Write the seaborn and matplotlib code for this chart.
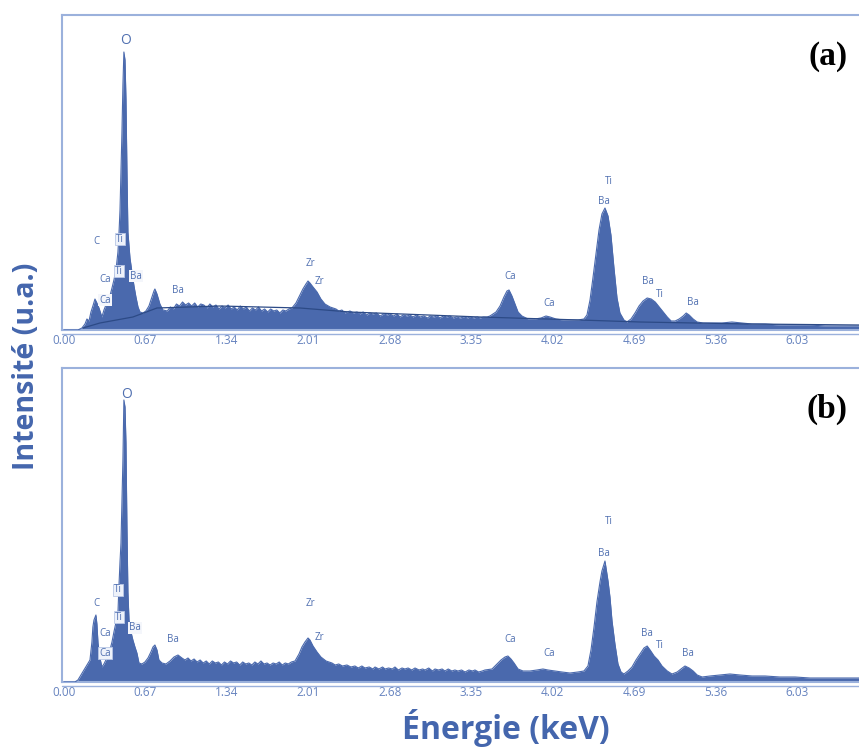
import numpy as np
import pandas as pd
import seaborn as sns
import matplotlib
matplotlib.use("Agg")
import matplotlib.pyplot as plt
from matplotlib.lines import Line2D

# ---------------- data ----------------
# EDS spectrum (a): (energy keV, counts a.u.)
spectrum_a = [
    (0.000, 0), (0.115, 0), (0.148, 2), (0.173, 6), (0.189, 11), (0.206, 9), (0.222, 18), (0.238, 24),
    (0.255, 31), (0.271, 27), (0.288, 22), (0.304, 16), (0.312, 13), (0.329, 20), (0.345, 25), (0.362, 29),
    (0.378, 34), (0.395, 42), (0.411, 50), (0.428, 60), (0.444, 78), (0.452, 95), (0.461, 120), (0.469, 160),
    (0.477, 198), (0.485, 245), (0.493, 278), (0.502, 270), (0.510, 231), (0.518, 160), (0.526, 98),
    (0.543, 72), (0.559, 58), (0.576, 44), (0.592, 33), (0.609, 23), (0.625, 18), (0.650, 17), (0.674, 19),
    (0.699, 24), (0.724, 33), (0.740, 39), (0.748, 41), (0.765, 36), (0.789, 26), (0.814, 20),
    (0.850, 19), (0.875, 23), (0.900, 21), (0.925, 26), (0.950, 24), (0.975, 28), (1.000, 25), (1.025, 27),
    (1.050, 24), (1.075, 27), (1.100, 23), (1.125, 26), (1.150, 25), (1.175, 22), (1.200, 26), (1.225, 23),
    (1.250, 25), (1.275, 21), (1.300, 24), (1.325, 22), (1.350, 25), (1.375, 21), (1.400, 23), (1.425, 20),
    (1.450, 24), (1.475, 21), (1.500, 23), (1.525, 19), (1.550, 22), (1.575, 20), (1.600, 23), (1.625, 19),
    (1.650, 21), (1.675, 18), (1.700, 21), (1.725, 19), (1.750, 20), (1.775, 17), (1.800, 20), (1.825, 19),
    (1.850, 21), (1.875, 22), (1.908, 27), (1.941, 35), (1.965, 41), (1.990, 46), (2.007, 49), (2.023, 47),
    (2.048, 43), (2.081, 38), (2.113, 31), (2.146, 26), (2.188, 23),
    (2.237, 21), (2.260, 19), (2.286, 20), (2.310, 17), (2.352, 19), (2.380, 17), (2.410, 18), (2.434, 16),
    (2.460, 18), (2.490, 15), (2.516, 17), (2.540, 16), (2.570, 17), (2.599, 14), (2.630, 16), (2.660, 15),
    (2.681, 16), (2.710, 14), (2.740, 16), (2.763, 13), (2.790, 15), (2.820, 14), (2.845, 15), (2.870, 13),
    (2.900, 15), (2.928, 13), (2.960, 14), (2.990, 12), (3.010, 14), (3.040, 13), (3.070, 14), (3.092, 12),
    (3.120, 14), (3.150, 13), (3.174, 14), (3.200, 12), (3.230, 13), (3.257, 12), (3.290, 13), (3.320, 12),
    (3.339, 13), (3.370, 12), (3.400, 13), (3.421, 12), (3.450, 13), (3.480, 13), (3.503, 14),
    (3.553, 18), (3.586, 24), (3.618, 33), (3.643, 39), (3.660, 40), (3.684, 34), (3.709, 26), (3.734, 18),
    (3.766, 14), (3.816, 11), (3.873, 11), (3.923, 12), (3.964, 14), (3.997, 13), (4.046, 11), (4.104, 10),
    (4.161, 10), (4.227, 10), (4.276, 11), (4.301, 15), (4.326, 30), (4.350, 52), (4.375, 76), (4.400, 100),
    (4.424, 116), (4.449, 122), (4.474, 114), (4.498, 95), (4.523, 62), (4.548, 32), (4.572, 17),
    (4.605, 10), (4.630, 8), (4.663, 11), (4.696, 17), (4.729, 24), (4.762, 29), (4.796, 32), (4.829, 31),
    (4.862, 28), (4.895, 23), (4.928, 18), (4.961, 13), (4.993, 9), (5.026, 9), (5.059, 11), (5.092, 14),
    (5.117, 17), (5.141, 15), (5.174, 11), (5.207, 8), (5.255, 7), (5.329, 7), (5.411, 7), (5.493, 8),
    (5.576, 7), (5.658, 6), (5.765, 6), (5.888, 5), (6.012, 5), (6.135, 5), (6.258, 4), (6.382, 4),
    (6.538, 4), (6.628, 4),
]

background_energy_a = [0.156, 0.296, 0.567, 0.765, 1.283, 1.941, 2.352, 3.421, 4.243, 4.737, 5.641, 6.538]
background_counts_a = [2, 7, 13, 22, 24, 22, 18, 13, 10, 8, 6, 5]

# EDS spectrum (b)
spectrum_b = [
    (0.000, 0), (0.090, 0), (0.115, 2), (0.140, 7), (0.164, 12), (0.189, 17), (0.214, 22), (0.230, 40),
    (0.238, 55), (0.247, 62), (0.263, 67), (0.271, 58), (0.280, 39), (0.296, 24), (0.312, 15), (0.329, 18),
    (0.345, 22), (0.362, 27), (0.378, 32), (0.395, 40), (0.411, 50), (0.428, 60), (0.444, 69), (0.452, 95),
    (0.461, 120), (0.469, 139), (0.477, 180), (0.485, 222), (0.493, 282), (0.502, 275), (0.510, 239),
    (0.518, 155), (0.526, 90), (0.535, 62), (0.551, 50), (0.567, 42), (0.584, 35), (0.600, 29), (0.617, 19),
    (0.641, 18), (0.666, 20), (0.691, 24), (0.715, 30), (0.732, 35), (0.748, 37), (0.765, 32), (0.781, 22),
    (0.806, 19), (0.839, 18), (0.872, 21), (0.905, 25), (0.938, 27),
    (0.970, 24), (0.995, 22), (1.020, 24), (1.045, 21), (1.070, 23), (1.095, 20), (1.120, 22), (1.145, 19),
    (1.170, 21), (1.195, 18), (1.220, 21), (1.245, 19), (1.270, 20), (1.295, 17), (1.320, 20), (1.345, 18),
    (1.370, 21), (1.395, 19), (1.420, 20), (1.445, 17), (1.470, 20), (1.495, 18), (1.520, 19), (1.545, 17),
    (1.570, 20), (1.595, 18), (1.620, 21), (1.645, 18), (1.670, 19), (1.695, 17), (1.720, 19), (1.745, 18),
    (1.770, 20), (1.795, 17), (1.820, 19), (1.845, 18), (1.870, 20), (1.900, 21), (1.933, 28), (1.957, 35),
    (1.982, 40), (2.007, 44), (2.023, 42), (2.048, 36), (2.081, 30), (2.113, 25), (2.155, 21),
    (2.204, 19), (2.230, 17), (2.260, 18), (2.290, 16), (2.327, 17), (2.360, 15), (2.393, 16), (2.420, 14),
    (2.450, 16), (2.475, 14), (2.510, 15), (2.540, 13), (2.558, 15), (2.590, 13), (2.620, 15), (2.640, 13),
    (2.670, 14), (2.700, 13), (2.722, 15), (2.750, 12), (2.780, 14), (2.804, 13), (2.830, 14), (2.860, 12),
    (2.887, 14), (2.920, 12), (2.950, 13), (2.969, 12), (3.000, 14), (3.030, 11), (3.051, 13), (3.080, 12),
    (3.110, 13), (3.133, 11), (3.160, 13), (3.190, 11), (3.215, 12), (3.240, 11), (3.270, 12), (3.298, 10),
    (3.330, 12), (3.360, 11), (3.380, 12), (3.410, 10), (3.440, 11), (3.462, 12),
    (3.520, 13), (3.561, 18), (3.594, 22), (3.627, 25), (3.651, 26), (3.676, 23), (3.701, 19), (3.734, 13),
    (3.775, 11), (3.832, 11), (3.890, 12), (3.939, 13), (3.980, 12), (4.038, 11), (4.095, 10), (4.161, 9),
    (4.227, 10), (4.276, 11), (4.309, 16), (4.334, 32), (4.359, 55), (4.383, 80), (4.408, 100), (4.424, 111),
    (4.449, 121), (4.474, 101), (4.490, 85), (4.507, 61), (4.531, 38), (4.556, 18), (4.581, 10), (4.605, 8),
    (4.638, 11), (4.671, 15), (4.704, 22), (4.737, 28), (4.770, 34), (4.796, 36), (4.820, 32), (4.853, 26),
    (4.885, 22), (4.918, 16), (4.961, 11), (5.000, 8), (5.043, 10), (5.074, 13), (5.107, 16), (5.141, 14),
    (5.174, 11), (5.207, 7), (5.248, 5), (5.313, 6), (5.395, 7), (5.477, 8), (5.559, 7), (5.658, 6),
    (5.765, 6), (5.888, 5), (6.012, 5), (6.135, 4), (6.258, 4), (6.382, 4), (6.538, 4), (6.628, 4),
]

tick_values = [0.00, 0.67, 1.34, 2.01, 2.68, 3.35, 4.02, 4.69, 5.36, 6.03]
tick_labels = ["0.00", "0.67", "1.34", "2.01", "2.68", "3.35", "4.02", "4.69", "5.36", "6.03"]

# peak labels: (element, energy, height, box: 0 none / 1 white patch / 2 framed patch)
peaks_a = [("O", 0.510, 290, 0), ("C", 0.271, 89, 0), ("Ti", 0.461, 91, 2),
           ("Ti", 0.452, 59, 2), ("Ba", 0.592, 54, 1), ("Ca", 0.337, 51, 0),
           ("Ca", 0.337, 30, 1), ("Ba", 0.938, 40, 0), ("Zr", 2.023, 67, 0),
           ("Zr", 2.097, 49, 0), ("Ca", 3.668, 54, 0), ("Ca", 3.988, 27, 0),
           ("Ti", 4.482, 148, 0), ("Ba", 4.441, 128, 0), ("Ba", 4.803, 49, 0),
           ("Ti", 4.901, 36, 0), ("Ba", 5.173, 28, 0)]
peaks_b = [("O", 0.518, 287, 0), ("C", 0.271, 79, 0), ("Ti", 0.444, 92, 2),
           ("Ti", 0.452, 65, 2), ("Ba", 0.584, 54, 1), ("Ca", 0.337, 49, 0),
           ("Ca", 0.337, 29, 2), ("Ba", 0.896, 42, 0), ("Zr", 2.031, 79, 0),
           ("Zr", 2.105, 45, 0), ("Ca", 3.668, 42, 0), ("Ca", 3.988, 28, 0),
           ("Ti", 4.482, 160, 0), ("Ba", 4.441, 129, 0), ("Ba", 4.794, 49, 0),
           ("Ti", 4.901, 37, 0), ("Ba", 5.132, 29, 0)]

# ---------------- style ----------------
sns.set_style("white")
plt.rcParams["font.family"] = ["Open Sans", "DejaVu Sans"]

FILL = "#4a69ad"
SPINE = "#9bb1dc"
TXT = "#4f6fb0"
LABEL = "#4466ad"

W, H = 859, 747
fig = plt.figure(figsize=(W / 100, H / 100), dpi=100)

XL = (-0.016, 6.538)
ax_a = fig.add_axes([62 / W, (H - 330) / H, (W - 62) / W, 315 / H])
ax_b = fig.add_axes([62 / W, (H - 682) / H, (W - 62) / W, 314 / H])

df_a = pd.DataFrame(spectrum_a, columns=["energy", "counts"])
df_b = pd.DataFrame(spectrum_b, columns=["energy", "counts"])
df_bg = pd.DataFrame({"energy": background_energy_a, "counts": background_counts_a})


def draw(ax, df, peaks, ylim, panel, bg=None):
    ax.fill_between(df["energy"], 0, df["counts"], color=FILL, lw=0, zorder=2)
    sns.lineplot(data=df, x="energy", y="counts", ax=ax, color=FILL, lw=0.8, zorder=3)
    if bg is not None:
        sns.lineplot(data=bg, x="energy", y="counts", ax=ax, color="#2c4a86", lw=0.9, zorder=4)
    ax.set_xlim(*XL)
    ax.set_ylim(*ylim)
    ax.set_xlabel("")
    ax.set_ylabel("")
    ax.set_xticks(tick_values)
    ax.set_xticklabels(tick_labels)
    ax.tick_params(axis="x", length=0, pad=3, labelsize=8.5, labelcolor="#6683bf")
    ax.set_yticks(np.arange(20, ylim[1], 30))
    ax.set_yticklabels([])
    ax.tick_params(axis="y", length=2, width=0.6, color="#b7c6e6", direction="out")
    for s in ("left", "top", "bottom"):
        ax.spines[s].set_color(SPINE)
        ax.spines[s].set_linewidth(1.5)
    ax.spines["right"].set_visible(False)
    # double bottom line
    ax.add_line(Line2D([0, 1], [-0.012, -0.012], transform=ax.transAxes,
                       color=SPINE, lw=1.0, clip_on=False))
    for name, e, h, box in peaks:
        fs = 10 if name == "O" else 7.0
        kw = {}
        if box == 1:
            kw["bbox"] = dict(boxstyle="square,pad=0.08", fc="#f4f6fb", ec="none")
        elif box == 2:
            kw["bbox"] = dict(boxstyle="square,pad=0.08", fc="#eef2fa", ec="#b9c7e6", lw=0.6)
        ax.text(e, h, name, ha="center", va="center", fontsize=fs, color=TXT, zorder=5, **kw)
    ax.text(0.986, 0.867, panel, transform=ax.transAxes, ha="right", va="center",
            fontsize=24, fontweight="bold", family="Liberation Serif", color="black")


draw(ax_a, df_a, peaks_a, (0, 315), "(a)", bg=df_bg)
draw(ax_b, df_b, peaks_b, (0, 314), "(b)")

fig.text(506 / W, 1 - 728 / H, "Énergie (keV)", ha="center", va="center",
         fontsize=23, fontweight="bold", color=LABEL)
fig.text(27 / W, 1 - 366 / H, "Intensité (u.a.)", ha="center", va="center",
         rotation=90, fontsize=20.5, fontweight="bold", color=LABEL)

fig.savefig("out.png", dpi=100)
